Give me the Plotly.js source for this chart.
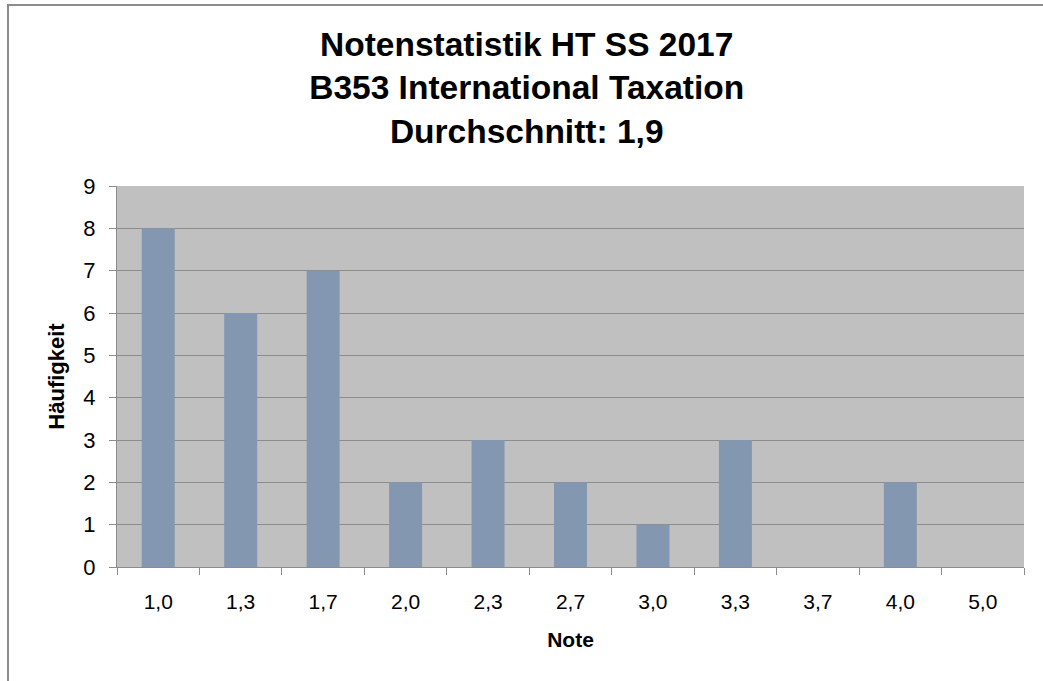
<!DOCTYPE html>
<html><head><meta charset="utf-8">
<script src="https://cdn.plot.ly/plotly-3.0.1.min.js"></script>
<style>
html,body{margin:0;padding:0;background:#fff;}
#wrap{position:relative;width:1043px;height:681px;}
#frame{position:absolute;left:7px;top:4px;width:1036px;height:677px;border-top:2px solid #8c8c8c;border-left:2px solid #8c8c8c;box-sizing:border-box;pointer-events:none;}
#chart{position:absolute;left:0;top:0;width:1043px;height:681px;}
</style></head>
<body><div id="wrap"><div id="chart"></div><div id="frame"></div></div>
<script>
const noten = ["1,0","1,3","1,7","2,0","2,3","2,7","3,0","3,3","3,7","4,0","5,0"];
const haeufigkeit = [8,6,7,2,3,2,1,3,0,2,0];
const titleLines = ["Notenstatistik HT SS 2017","B353 International Taxation","Durchschnitt: 1,9"];
const xTitle = "Note";
const yTitle = "Häufigkeit";
const FONT = "'Liberation Sans Narrow', 'Arial Narrow', 'Liberation Sans', Arial, sans-serif";
Plotly.newPlot('chart', [{
  type:'bar', x: noten, y: haeufigkeit,
  marker:{color:'#8497b0'}, hoverinfo:'x+y'
}], {
  width:1043, height:681,
  margin:{l:117, r:19, t:186, b:114},
  paper_bgcolor:'rgba(0,0,0,0)', plot_bgcolor:'#c0c0c0',
  bargap:0.6,
  font:{family:FONT, color:'#000', size:21},
  title:{text:titleLines.join('<br>'), font:{family:FONT, size:33.5, color:'#000', weight:'bold'},
         x:0.505, xref:'container', xanchor:'center', y:0.918, yref:'container', yanchor:'top'},
  xaxis:{type:'category', tickson:'boundaries', ticks:'outside', ticklen:7, tickcolor:'#8c8c8c',
         showline:true, linecolor:'#8c8c8c', linewidth:1, showgrid:false, ticklabelstandoff:16,
         tickfont:{size:21}, title:{text:xTitle, font:{size:21, weight:'bold'}, standoff:20}},
  yaxis:{range:[0,9], dtick:1, ticks:'outside', ticklen:7, tickcolor:'#8c8c8c',
         showline:true, linecolor:'#8c8c8c', linewidth:1, ticklabelstandoff:9,
         gridcolor:'#8c8c8c', gridwidth:1, zeroline:false,
         tickfont:{size:22}, title:{text:yTitle, font:{size:22, weight:'bold'}, standoff:12}},
  showlegend:false
}, {displayModeBar:false, staticPlot:true});
</script></body></html>
